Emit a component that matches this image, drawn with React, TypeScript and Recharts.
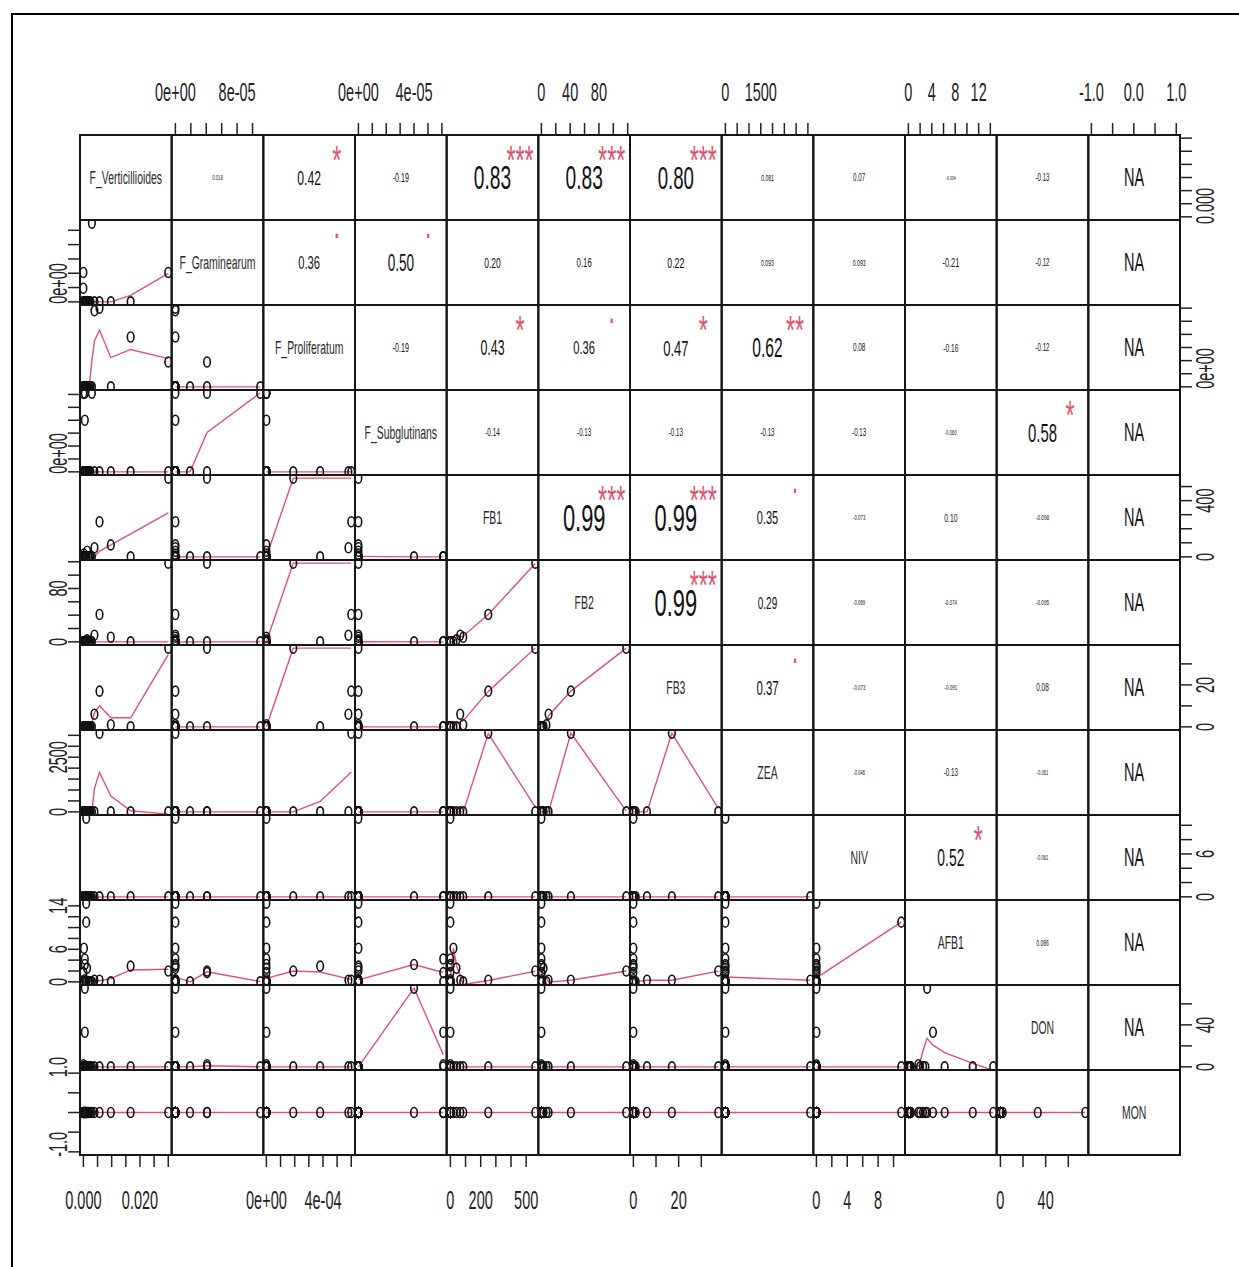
import React from 'react'
import { ComposedChart, Scatter, Line, XAxis, YAxis } from 'recharts'

const varNames = [
  'F_Verticillioides', 'F_Graminearum', 'F_Proliferatum', 'F_Subglutinans',
  'FB1', 'FB2', 'FB3', 'ZEA', 'NIV', 'AFB1', 'DON', 'MON',
]

// one value per sample, samples in the same order in every array
const fVerticillioides = [0.0057, 0.030, 0.0039, 0.0097, 0.001, 0.0005, 0.0005, 0.003, 0, 0.0167, 0, 0.001, 0.0002, 0.0013, 0, 0, 0.0005, 0.0008, 0.001, 0.0017, 0.002, 0.0025]
const fGraminearum = [0, 4.1e-5, 0, 0, 0, 0, 0, 1.1e-4, 4.1e-5, 0, 1.9e-5, 0, 0, 0, 0, 0, 0, 0, 0, 0, 0, 0]
const fProliferatum = [6.0e-4, 1.9e-4, 5.8e-4, 0, 0, 0, 0, 0, 0, 3.8e-4, 0, 0, 0, 0, 0, 0, 0, 0, 0, 0, 0, 0]
const fSubglutinans = [0, 0, 0, 0, 0, 4.0e-5, 6.1e-5, 6.1e-5, 6.1e-5, 0, 0, 0, 0, 0, 0, 0, 0, 0, 0, 0, 0, 0]
const fb1 = [250, 560, 65, 85, 0, 0, 0, 0, 0, 0, 0, 0, 20, 40, 0, 0, 0, 0, 0, 0, 0, 0]
const fb2 = [41, 118, 10, 7, 0, 0, 0, 0, 0, 0, 0, 0, 0, 3, 0, 0, 0, 0, 0, 0, 0, 0]
const fb3 = [17, 37.5, 6, 1, 0, 0, 0, 0, 0, 0, 0, 0, 0, 0, 0, 0, 0, 0, 0, 0, 0, 0]
const zea = [3600, 0, 0, 0, 0, 0, 0, 0, 0, 0, 0, 0, 0, 0, 0, 0, 0, 0, 0, 0, 0, 0]
const niv = [0, 0, 0, 0, 11, 0, 0, 0, 0, 0, 0, 0, 0, 0, 0, 0, 0, 0, 0, 0, 0, 0]
const afb1 = [0.3, 2.0, 0.3, 0, 11, 3.2, 4.2, 0, 1.7, 2.9, 0, 14.5, 6.2, 2.5, 0, 0, 0.4, 0, 0, 0, 0, 0]
const don = [0, 0, 0, 0, 0, 75, 33, 0, 2, 0, 0, 0, 0, 0, 0, 0, 0, 0, 0, 0, 0, 0]
const mon = [0, 0, 0, 0, 0, 0, 0, 0, 0, 0, 0, 0, 0, 0, 0, 0, 0, 0, 0, 0, 0, 0]

const columns = [fVerticillioides, fGraminearum, fProliferatum, fSubglutinans, fb1, fb2, fb3, zea, niv, afb1, don, mon]

// upper triangle, row by row (row i holds columns i+1 .. 11)
const corrRows = [
  ['0.018', '0.42', '-0.19', '0.83', '0.83', '0.80', '0.081', '0.07', '-0.004', '-0.13', 'NA'],
  ['0.36', '0.50', '0.20', '0.16', '0.22', '0.093', '0.093', '-0.21', '-0.12', 'NA'],
  ['-0.19', '0.43', '0.36', '0.47', '0.62', '0.08', '-0.16', '-0.12', 'NA'],
  ['-0.14', '-0.13', '-0.13', '-0.13', '-0.13', '-0.060', '0.58', 'NA'],
  ['0.99', '0.99', '0.35', '-0.073', '0.10', '-0.098', 'NA'],
  ['0.99', '0.29', '-0.069', '-0.074', '-0.095', 'NA'],
  ['0.37', '-0.073', '-0.091', '0.08', 'NA'],
  ['-0.046', '-0.13', '-0.061', 'NA'],
  ['0.52', '-0.061', 'NA'],
  ['0.086', 'NA'],
  ['NA'],
]
const starRows = [
  ['', '*', '', '***', '***', '***', '', '', '', '', ''],
  ['.', '.', '', '', '', '', '', '', '', ''],
  ['', '*', '.', '*', '**', '', '', '', ''],
  ['', '', '', '', '', '', '*', ''],
  ['***', '***', '.', '', '', '', ''],
  ['***', '', '', '', '', ''],
  ['.', '', '', '', ''],
  ['', '', '', ''],
  ['*', '', ''],
  ['', ''],
  [''],
]

const ticksByVar = [
  [0, 0.005, 0.01, 0.015, 0.02, 0.025, 0.03],
  [0, 2e-5, 4e-5, 6e-5, 8e-5, 1e-4],
  [0, 1e-4, 2e-4, 3e-4, 4e-4, 5e-4, 6e-4],
  [0, 1e-5, 2e-5, 3e-5, 4e-5, 5e-5, 6e-5],
  [0, 100, 200, 300, 400, 500],
  [0, 20, 40, 60, 80, 100, 120],
  [0, 10, 20, 30],
  [0, 500, 1000, 1500, 2000, 2500, 3000, 3500],
  [0, 2, 4, 6, 8, 10],
  [0, 2, 4, 6, 8, 10, 12, 14],
  [0, 20, 40, 60],
  [-1, -0.5, 0, 0.5, 1],
]
// labels kept on the top/bottom axes
const xSideLabels = [
  ['0.000', '', '', '', '0.020', '', ''],
  ['0e+00', '', '', '', '8e-05', ''],
  ['0e+00', '', '', '', '4e-04', '', ''],
  ['0e+00', '', '', '', '4e-05', '', ''],
  ['0', '', '200', '', '', '500'],
  ['0', '', '40', '', '80', '', ''],
  ['0', '', '20', ''],
  ['0', '', '', '1500', '', '', '', ''],
  ['0', '', '4', '', '8', ''],
  ['0', '', '4', '', '8', '', '12', ''],
  ['0', '', '40', ''],
  ['-1.0', '', '0.0', '', '1.0'],
]
// labels kept on the left/right axes
const ySideLabels = [
  ['0.000', '', '', '', '', '', ''],
  ['0e+00', '', '', '', '', ''],
  ['0e+00', '', '', '', '', '', ''],
  ['0e+00', '', '', '', '', '', ''],
  ['0', '', '', '', '400', ''],
  ['0', '', '', '', '80', '', ''],
  ['0', '', '20', ''],
  ['0', '', '', '', '', '2500', '', ''],
  ['0', '', '', '6', '', ''],
  ['0', '', '', '6', '', '', '', '14'],
  ['0', '', '40', ''],
  ['-1.0', '', '', '', '1.0'],
]

const N = 12
const GX = 80
const GY = 135
const CW = 1100 / 12
const CH = 85
const SQ = 0.58
const FONT = "'Liberation Sans', Arial, sans-serif"
const RED = '#DF536B'
const AXIS_FS = 25

const dom = (k: number): [number, number] => {
  const v = columns[k]
  const lo = Math.min(...v)
  const hi = Math.max(...v)
  if (lo === hi) return [lo - 1.08, hi + 1.08]
  const r = hi - lo
  return [lo - 0.04 * r, hi + 0.04 * r]
}

// R's lowess (clowess), f = 2/3, 3 robustness steps
function lowess(xIn: number[], yIn: number[], f = 2 / 3, nsteps = 3) {
  const order = xIn.map((_, i) => i).sort((a, b) => xIn[a] - xIn[b])
  const x = order.map(i => xIn[i])
  const y = order.map(i => yIn[i])
  const n = x.length
  const ys = new Array(n).fill(0)
  const rw = new Array(n).fill(1)
  const res = new Array(n).fill(0)
  const range = x[n - 1] - x[0]
  const delta = 0.01 * range
  const ns = Math.max(2, Math.min(n, Math.floor(f * n + 1e-7)))

  const lowest = (xs: number, nleft: number, nright: number, userw: boolean) => {
    const h = Math.max(xs - x[nleft], x[nright] - xs)
    const h9 = 0.999 * h
    const h1 = 0.001 * h
    const w = new Array(n).fill(0)
    let a = 0
    let j = nleft
    while (j < n) {
      w[j] = 0
      const r = Math.abs(x[j] - xs)
      if (r <= h9) {
        w[j] = r <= h1 ? 1 : Math.pow(1 - Math.pow(r / h, 3), 3)
        if (userw) w[j] *= rw[j]
        a += w[j]
      } else if (x[j] > xs) break
      j++
    }
    const nrt = j - 1
    if (a <= 0) return null
    for (let k = nleft; k <= nrt; k++) w[k] /= a
    if (h > 0) {
      let m = 0
      for (let k = nleft; k <= nrt; k++) m += w[k] * x[k]
      let b = xs - m
      let c = 0
      for (let k = nleft; k <= nrt; k++) c += w[k] * (x[k] - m) * (x[k] - m)
      if (Math.sqrt(c) > 0.001 * range) {
        b /= c
        for (let k = nleft; k <= nrt; k++) w[k] *= b * (x[k] - m) + 1
      }
    }
    let s = 0
    for (let k = nleft; k <= nrt; k++) s += w[k] * y[k]
    return s
  }

  for (let iter = 1; iter <= nsteps + 1; iter++) {
    let nleft = 0
    let nright = ns - 1
    let last = -1
    let i = 0
    for (;;) {
      if (nright < n - 1) {
        const d1 = x[i] - x[nleft]
        const d2 = x[nright + 1] - x[i]
        if (d1 > d2) { nleft++; nright++; continue }
      }
      const v = lowest(x[i], nleft, nright, iter > 1)
      ys[i] = v === null ? y[i] : v
      if (last < i - 1) {
        const denom = x[i] - x[last]
        for (let j = last + 1; j < i; j++) {
          const alpha = (x[j] - x[last]) / denom
          ys[j] = alpha * ys[i] + (1 - alpha) * ys[last]
        }
      }
      last = i
      const cut = x[last] + delta
      for (i = last + 1; i < n; i++) {
        if (x[i] > cut) break
        if (x[i] === x[last]) { ys[i] = ys[last]; last = i }
      }
      i = Math.max(last + 1, i - 1)
      if (last >= n - 1) break
    }
    for (let k = 0; k < n; k++) res[k] = y[k] - ys[k]
    if (iter > nsteps) break
    const sc = res.reduce((s, r) => s + Math.abs(r), 0) / n
    const sorted = res.map(r => Math.abs(r)).sort((a, b) => a - b)
    const m1 = Math.floor(n / 2)
    const cmad = n % 2 === 0 ? 3 * (sorted[m1] + sorted[n - m1 - 1]) : 6 * sorted[m1]
    if (cmad < 1e-7 * sc) break
    const c9 = 0.999 * cmad
    const c1 = 0.001 * cmad
    for (let k = 0; k < n; k++) {
      const r = Math.abs(res[k])
      rw[k] = r <= c1 ? 1 : r <= c9 ? Math.pow(1 - Math.pow(r / cmad, 2), 2) : 0
    }
  }
  return x.map((xv, k) => ({ x: xv, y: ys[k] }))
}

const charW: Record<string, number> = { '.': 0.278, '-': 0.333, N: 0.722, A: 0.667, '*': 0.389, '+': 0.584 }
const emWidth = (t: string) => t.split('').reduce((s, ch) => s + (charW[ch] ?? 0.556), 0)

const Ring = (props: any) => (
  <ellipse cx={props.cx} cy={props.cy} rx={3.3} ry={5} fill="none" stroke="#111" strokeWidth={1.6} />
)
const Nothing = () => <g />

type Side = 'top' | 'bottom' | 'left' | 'right'

const makeTick = (k: number, side: Side) => (props: any) => {
  const { x, y, payload } = props
  const idx = ticksByVar[k].findIndex(t => Math.abs(t - payload.value) < 1e-12)
  const labels = side === 'top' || side === 'bottom' ? xSideLabels[k] : ySideLabels[k]
  const label = idx >= 0 ? labels[idx] : ''
  if (!label) return <g />
  // rotated decimal / exponent labels sit a little above their tick in the reference
  const len = emWidth(label) * AXIS_FS * SQ
  const lift = label.includes('e') ? 0.45 * len : label.includes('.') ? 0.3 * len : 0
  let tr = ''
  if (side === 'top') tr = `translate(${x},${y - 22}) scale(${SQ},1)`
  if (side === 'bottom') tr = `translate(${x},${y + 42}) scale(${SQ},1)`
  if (side === 'left') tr = `translate(${x - 1},${y - lift}) rotate(-90) scale(${SQ},1)`
  if (side === 'right') tr = `translate(${x + 22},${y - lift}) rotate(-90) scale(${SQ},1)`
  return (
    <text transform={tr} textAnchor="middle" fontSize={AXIS_FS} fontFamily={FONT} fill="#222">
      {label}
    </text>
  )
}

function PairPanel({ i, j }: { i: number; j: number }) {
  const xs = columns[j]
  const ysv = columns[i]
  const pts = xs.map((v, k) => ({ x: v, y: ysv[k] }))
  const smooth = lowess(xs, ysv)
  return (
    <div style={{ position: 'absolute', left: GX + j * CW, top: GY + i * CH }}>
      <ComposedChart width={CW} height={CH} margin={{ top: 0, right: 0, bottom: 0, left: 0 }}>
        <XAxis type="number" dataKey="x" domain={dom(j)} hide allowDataOverflow />
        <YAxis type="number" dataKey="y" domain={dom(i)} hide allowDataOverflow />
        <Line data={smooth} dataKey="y" stroke={RED} strokeWidth={1.4} dot={false} isAnimationActive={false} />
        <Scatter data={pts} shape={Ring} isAnimationActive={false} />
      </ComposedChart>
    </div>
  )
}

function AxisStrip({ k, side }: { k: number; side: Side }) {
  const horiz = side === 'top' || side === 'bottom'
  const pts = columns[k].map(v => (horiz ? { x: v, y: 0.5 } : { x: 0.5, y: v }))
  const tickLine = { stroke: '#222', strokeWidth: 1.5 }
  let left = 0
  let top = 0
  if (side === 'top') { left = GX + k * CW; top = GY - 79 }
  if (side === 'bottom') { left = GX + k * CW; top = GY + N * CH - 1 }
  if (side === 'left') { left = GX - 79; top = GY + k * CH }
  if (side === 'right') { left = GX + N * CW - 1; top = GY + k * CH }
  return (
    <div style={{ position: 'absolute', left, top }}>
      <ComposedChart width={horiz ? CW : 80} height={horiz ? 80 : CH} margin={{ top: 0, right: 0, bottom: 0, left: 0 }}>
        {horiz ? (
          <XAxis type="number" dataKey="x" orientation={side} height={79} domain={dom(k)} ticks={ticksByVar[k]}
            interval={0} tickSize={12} tickMargin={0} axisLine={false} tickLine={tickLine}
            tick={makeTick(k, side)} allowDataOverflow />
        ) : (
          <XAxis type="number" dataKey="x" domain={[0, 1]} hide />
        )}
        {horiz ? (
          <YAxis type="number" dataKey="y" domain={[0, 1]} hide />
        ) : (
          <YAxis type="number" dataKey="y" orientation={side} width={79} domain={dom(k)} ticks={ticksByVar[k]}
            interval={0} tickSize={12} tickMargin={0} axisLine={false} tickLine={tickLine}
            tick={makeTick(k, side)} allowDataOverflow />
        )}
        <Scatter data={pts} shape={Nothing} isAnimationActive={false} />
      </ComposedChart>
    </div>
  )
}

function Overlay() {
  const cells: React.ReactNode[] = []
  for (let i = 0; i < N; i++) {
    for (let j = 0; j < N; j++) {
      const x0 = GX + j * CW
      const y0 = GY + i * CH
      cells.push(<rect key={`b${i}-${j}`} x={x0} y={y0} width={CW} height={CH} fill="none" stroke="#161616" strokeWidth={2} />)
      if (i === j) {
        cells.push(
          <text key={`d${i}`} transform={`translate(${x0 + CW / 2},${y0 + CH / 2 + 6}) scale(${SQ},1)`}
            textAnchor="middle" fontSize={18} fontFamily={FONT} fill="#2a2a2a">{varNames[i]}</text>
        )
      }
      if (j > i) {
        const txt = corrRows[i][j - i - 1]
        const star = starRows[i][j - i - 1]
        const r = parseFloat(txt)
        const fs = isNaN(r) ? 25 : (73.9 * (Math.abs(r) + 0.3)) / 1.3 / emWidth(txt)
        cells.push(
          <text key={`c${i}-${j}`} transform={`translate(${x0 + CW / 2},${y0 + CH / 2 + 0.358 * fs}) scale(${SQ},1)`}
            textAnchor="middle" fontSize={fs} fontFamily={FONT} fill="#111">{txt}</text>
        )
        if (star) {
          const ss = 78 / emWidth(txt)
          // centre the glyphs themselves on (0.8, 0.8) of the cell
          const base = star === '.' ? 0.05 * ss : 0.575 * ss
          cells.push(
            <text key={`s${i}-${j}`} transform={`translate(${x0 + 0.8 * CW},${y0 + 0.2 * CH + base - 1}) scale(${SQ},1)`}
              textAnchor="middle" fontSize={ss} fontFamily={FONT} fill={RED}>{star}</text>
          )
        }
      }
    }
  }
  return (
    <svg width={1239} height={1267} style={{ position: 'absolute', left: 0, top: 0, pointerEvents: 'none' }}>
      <rect x={12} y={14} width={1240} height={1262} fill="none" stroke="#000" strokeWidth={2} />
      {cells}
    </svg>
  )
}

export default function App() {
  const panels: React.ReactNode[] = []
  for (let i = 0; i < N; i++) {
    for (let j = 0; j < i; j++) panels.push(<PairPanel key={`p${i}-${j}`} i={i} j={j} />)
  }
  const strips: React.ReactNode[] = []
  for (let k = 0; k < N; k++) {
    strips.push(<AxisStrip key={`x${k}`} k={k} side={k % 2 === 0 ? 'bottom' : 'top'} />)
    strips.push(<AxisStrip key={`y${k}`} k={k} side={k % 2 === 0 ? 'right' : 'left'} />)
  }
  return (
    <div style={{ position: 'absolute', left: 0, top: 0, width: 1239, height: 1267, background: '#fff', overflow: 'hidden' }}>
      <style>{'.recharts-surface{overflow:visible}'}</style>
      {strips}
      {panels}
      <Overlay />
    </div>
  )
}
